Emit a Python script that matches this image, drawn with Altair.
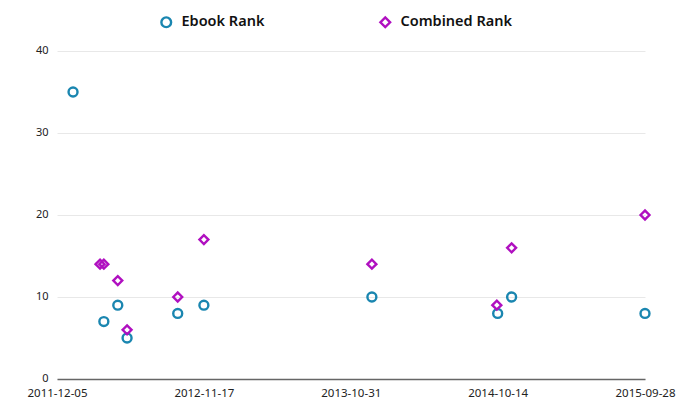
import altair as alt
import pandas as pd

# Data
ebook_dates = ["2012-01-12", "2012-03-25", "2012-04-27", "2012-05-19", "2012-09-16",
               "2012-11-17", "2013-12-20", "2014-10-14", "2014-11-16", "2015-09-28"]
ebook_ranks = [35, 7, 9, 5, 8, 9, 10, 8, 10, 8]

combined_dates = ["2012-03-16", "2012-03-25", "2012-04-27", "2012-05-19", "2012-09-16",
                  "2012-11-17", "2013-12-20", "2014-10-12", "2014-11-16", "2015-09-28"]
combined_ranks = [14, 14, 12, 6, 10, 17, 14, 9, 16, 20]

tick_labels = ["2011-12-05", "2012-11-17", "2013-10-31", "2014-10-14", "2015-09-28"]
series_names = ["Ebook Rank", "Combined Rank"]
series_colors = ["#1a86b0", "#b010c0"]
series_shapes = ["circle", "diamond"]


def ms(d):
    return int(pd.Timestamp(d, tz="UTC").value // 10**6)


rows = []
for d, r in zip(ebook_dates, ebook_ranks):
    rows.append({"t": ms(d), "rank": r, "series": series_names[0]})
for d, r in zip(combined_dates, combined_ranks):
    rows.append({"t": ms(d), "rank": r, "series": series_names[1]})
df = pd.DataFrame(rows)

tick_ms = [ms(d) for d in tick_labels]

font = "Noto Sans"

chart = alt.Chart(df).mark_point(filled=False, strokeWidth=2.4, size=80, opacity=1).encode(
    x=alt.X("t:Q",
            scale=alt.Scale(domain=[tick_ms[0], tick_ms[-1]], nice=False, zero=False),
            axis=alt.Axis(values=tick_ms, labelExpr="utcFormat(datum.value, '%Y-%m-%d')",
                          grid=False, ticks=False, domainColor="#666666", domainWidth=1.5,
                          labelFont=font, labelFontSize=11.5, labelColor="#222222",
                          labelPadding=8, title=None, labelFlush=False)),
    y=alt.Y("rank:Q",
            scale=alt.Scale(domain=[0, 40], nice=False),
            axis=alt.Axis(values=[0, 10, 20, 30, 40], grid=True, gridColor="#e8e8e8",
                          domain=False, ticks=False, labelFont=font, labelFontSize=11,
                          labelColor="#222222", labelPadding=9, labelOffset=-1,
                          title=None)),
    color=alt.Color("series:N",
                    scale=alt.Scale(domain=series_names, range=series_colors),
                    legend=alt.Legend(orient="none", direction="horizontal",
                                      legendX=102, legendY=-36, title=None,
                                      labelFont=font, labelFontSize=14.5, labelFontWeight=600,
                                      labelColor="#111111", columnPadding=110,
                                      symbolStrokeWidth=2.4, symbolSize=95,
                                      labelOffset=8)),
    shape=alt.Shape("series:N",
                    scale=alt.Scale(domain=series_names, range=series_shapes),
                    legend=None),
).properties(
    width=588, height=328,
    autosize=alt.AutoSizeParams(type="none"),
    padding={"left": 57, "top": 51, "right": 55, "bottom": 39},
    background="white",
).configure_view(stroke=None)

chart.save("out.html", embed_options={"renderer": "svg", "actions": False})
